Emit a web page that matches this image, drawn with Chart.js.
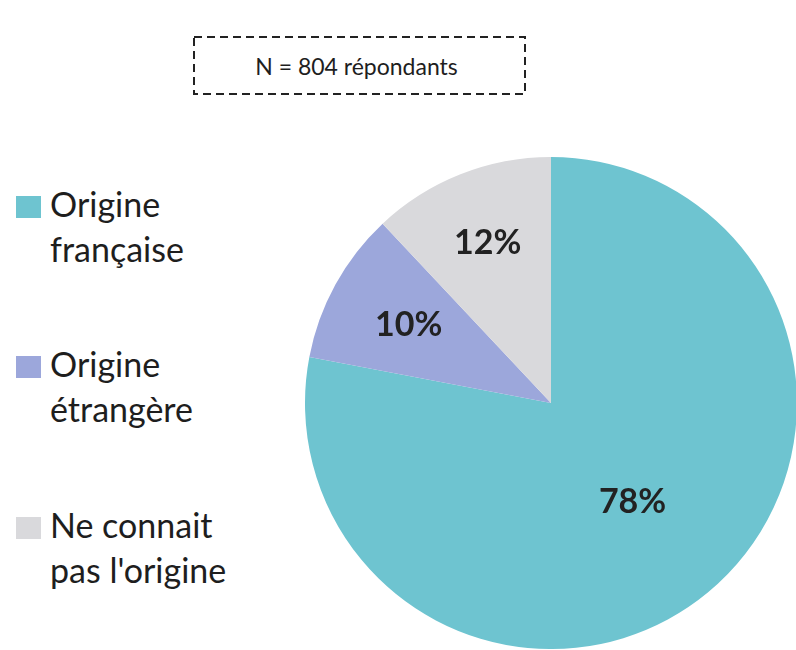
<!DOCTYPE html>
<html>
<head>
<meta charset="utf-8">
<script src="https://cdn.jsdelivr.net/npm/chart.js@4.4.0/dist/chart.umd.min.js"></script>
<style>
  html, body { margin: 0; padding: 0; width: 796px; height: 650px; overflow: hidden; background: #fff; }
  body { position: relative; font-family: Lato, "Noto Sans", sans-serif; color: #1e1e1e; }
  #nBox {
    position: absolute; left: 193px; top: 36px; width: 333px; height: 59px;
    display: flex; align-items: center; justify-content: center;
    font-size: 23px;
  }
  #nBox svg { position: absolute; left: 0; top: 0; }
  #nBox span { position: relative; left: -3px; }
  #pieWrap { position: absolute; left: 305px; top: 157px; width: 492px; height: 492px; }
  #legend { position: absolute; left: 0; top: 0; }
  .item { position: absolute; left: 16px; }
  .swatch { position: absolute; left: 0; width: 25px; height: 22px; }
  .txt { position: absolute; left: 34px; top: 0; font-size: 34px; line-height: 45px; white-space: nowrap; }
</style>
</head>
<body>
<div id="nBox">
  <svg width="333" height="59"><rect x="1" y="1" width="331" height="57" fill="none" stroke="#222" stroke-width="2" stroke-dasharray="8 5"/></svg>
  <span>N = 804 répondants</span>
</div>
<div id="legend"></div>
<div id="pieWrap"><canvas id="pie"></canvas></div>
<script>
const categories = [["Origine", "française"], ["Origine", "étrangère"], ["Ne connait", "pas l'origine"]];
const shares = [78, 10, 12];
const sliceColors = ["#6EC4D0", "#9CA7DB", "#D9D9DC"];

// legend drawn as html, built from the same arrays
const legend = document.getElementById("legend");
const legendTops = [181, 341, 502];
categories.forEach((lines, i) => {
    const item = document.createElement("div");
    item.className = "item";
    item.style.top = legendTops[i] + "px";
    item.innerHTML = `<div class="swatch" style="top:15px;background:${sliceColors[i]}"></div>` +
        `<div class="txt">${lines.join("<br>")}</div>`;
    legend.appendChild(item);
});

// put the percentages inside the slices
const labelRadius = [0.52, 0.66, 0.70];
const sliceLabels = {
    id: "sliceLabels",
    afterDatasetsDraw(chart) {
        const ctx = chart.ctx;
        const meta = chart.getDatasetMeta(0);
        ctx.save();
        ctx.font = "bold 34px Lato, 'Noto Sans', sans-serif";
        ctx.fillStyle = "#222";
        ctx.textAlign = "center";
        ctx.textBaseline = "middle";
        meta.data.forEach((arc, i) => {
            const p = arc.getProps(["x", "y", "startAngle", "endAngle", "outerRadius"], true);
            const mid = (p.startAngle + p.endAngle) / 2;
            const r = p.outerRadius * labelRadius[i];
            ctx.fillText(shares[i] + "%", p.x + Math.cos(mid) * r, p.y + Math.sin(mid) * r);
        });
        ctx.restore();
    }
};

new Chart(document.getElementById("pie"), {
    type: "pie",
    data: {
        labels: categories,
        datasets: [{
            data: shares,
            backgroundColor: sliceColors,
            borderWidth: 0
        }]
    },
    options: {
        responsive: true,
        maintainAspectRatio: false,
        animation: false,
        layout: { padding: 0 },
        plugins: {
            legend: { display: false },
            tooltip: { enabled: false }
        }
    },
    plugins: [sliceLabels]
});
</script>
</body>
</html>
